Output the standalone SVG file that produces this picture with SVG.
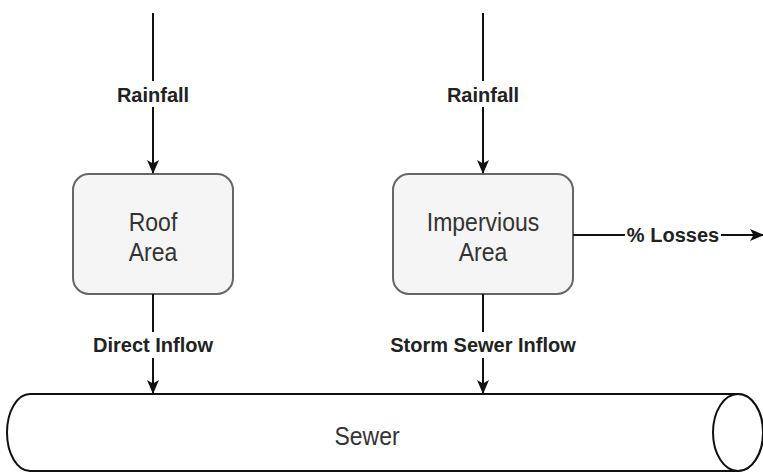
<svg xmlns="http://www.w3.org/2000/svg" width="763" height="473" viewBox="0 0 763 473">
<style>
.box{fill:#f5f5f5;stroke:#666;stroke-width:2}
.node-text{font-family:"Liberation Sans",Arial,sans-serif;font-size:23px;fill:#333;text-anchor:middle}
.edge{fill:none;stroke:#111;stroke-width:2}
.lbl{font-family:"Liberation Sans",Arial,sans-serif;font-size:20px;font-weight:bold;fill:#222;text-anchor:middle}
.lblbg{fill:#fff}
.pipe{fill:#fff;stroke:#111;stroke-width:2}
</style>
<defs>
<marker id="arr" viewBox="0 0 14 12" refX="13" refY="6" markerWidth="14" markerHeight="12" markerUnits="userSpaceOnUse" orient="auto">
<path d="M0,0 L14,6 L0,12 L3.5,6 Z" fill="#111"/>
</marker>
</defs>
<g id="sewer">
<path class="pipe" d="M30,394 H738 A25,38.5 0 0 1 738,471 H30 A23,38.5 0 0 1 30,394 Z"/>
<ellipse class="pipe" cx="738" cy="432.5" rx="25" ry="38.5"/>
<text class="node-text" transform="translate(367,445) scale(1,1.12)">Sewer</text>
</g>
<g id="roof">
<rect class="box" x="73" y="174" width="160" height="120" rx="16"/>
<text class="node-text" transform="translate(153,231) scale(1,1.14)">Roof</text>
<text class="node-text" transform="translate(153,261) scale(1,1.14)">Area</text>
</g>
<g id="impervious">
<rect class="box" x="393" y="174" width="180" height="120" rx="16"/>
<text class="node-text" transform="translate(483,231) scale(1,1.14)">Impervious</text>
<text class="node-text" transform="translate(483,261) scale(1,1.14)">Area</text>
</g>
<g id="connectors">
<path class="edge" d="M153,13 V173" marker-end="url(#arr)"/>
<path class="edge" d="M483,13 V173" marker-end="url(#arr)"/>
<path class="edge" d="M153,294 V393" marker-end="url(#arr)"/>
<path class="edge" d="M483,294 V393" marker-end="url(#arr)"/>
<path class="edge" d="M573,235 H763" marker-end="url(#arr)"/>
<rect class="lblbg" x="113" y="81" width="80" height="26"/>
<text class="lbl" x="153" y="102">Rainfall</text>
<rect class="lblbg" x="443" y="81" width="80" height="26"/>
<text class="lbl" x="483" y="102">Rainfall</text>
<rect class="lblbg" x="91" y="332" width="124" height="26"/>
<text class="lbl" x="153" y="352">Direct Inflow</text>
<rect class="lblbg" x="386" y="332" width="194" height="26"/>
<text class="lbl" x="483" y="352">Storm Sewer Inflow</text>
<rect class="lblbg" x="625" y="222" width="96" height="26"/>
<text class="lbl" x="673" y="242">% Losses</text>
</g>
</svg>
